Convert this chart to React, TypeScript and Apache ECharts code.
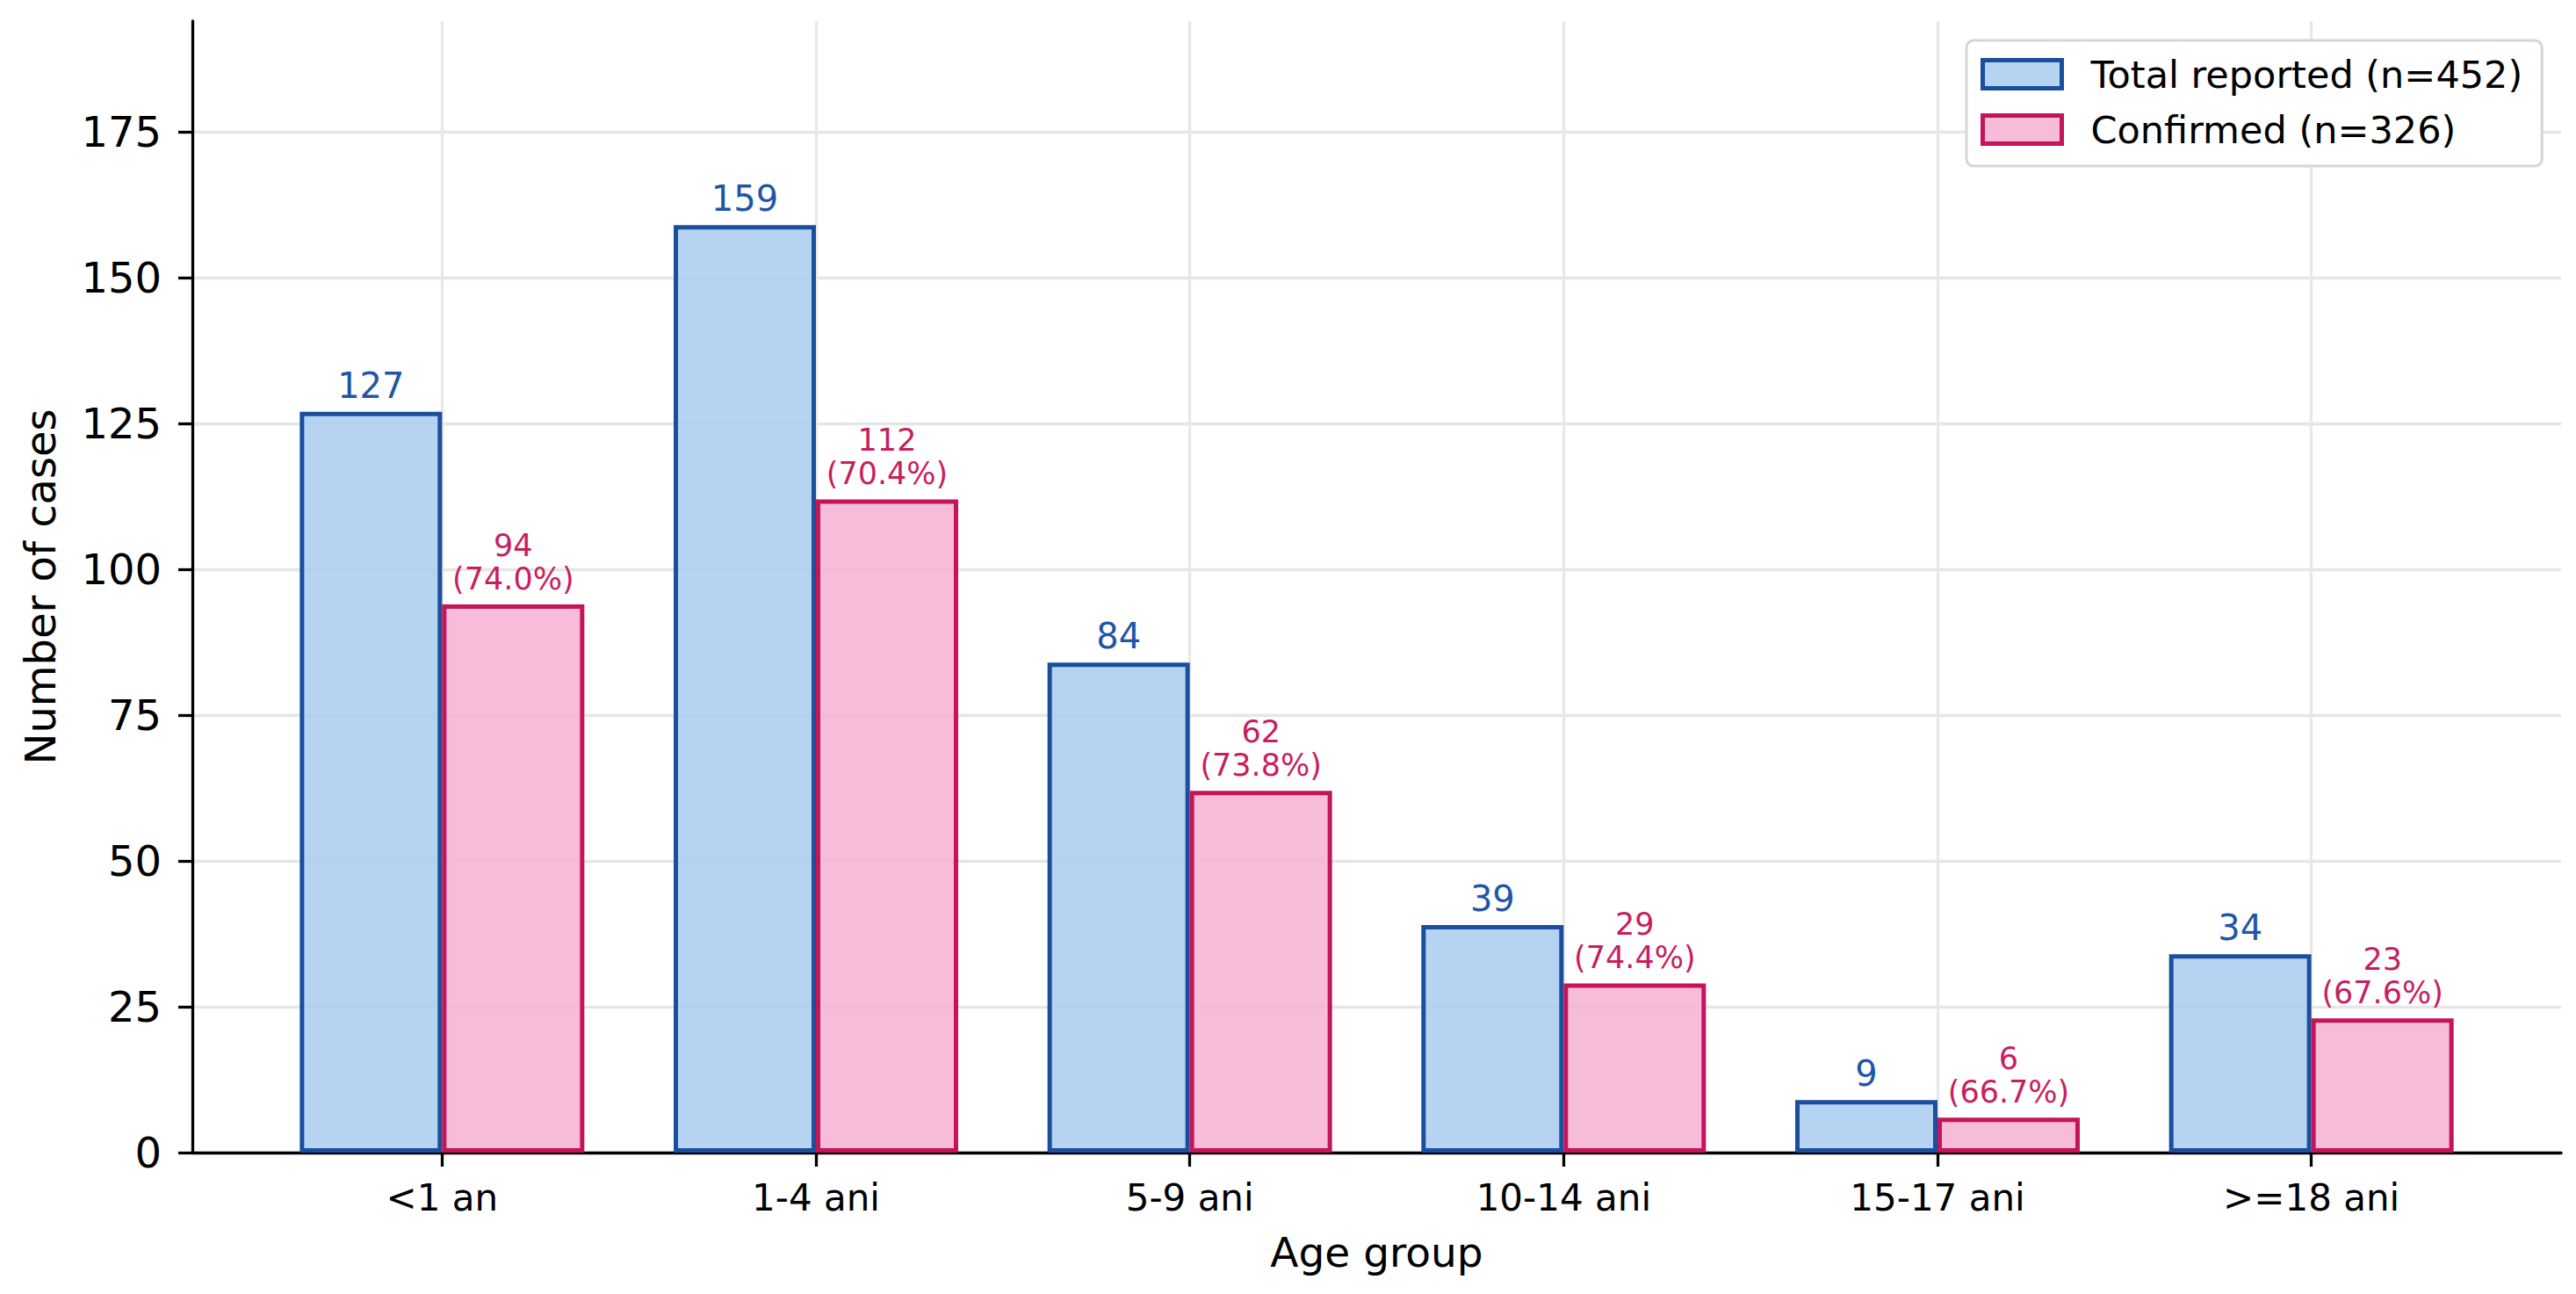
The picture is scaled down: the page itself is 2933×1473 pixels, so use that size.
import React, { useEffect, useRef } from 'react';
import * as echarts from 'echarts';

const categories = ['<1 an', '1-4 ani', '5-9 ani', '10-14 ani', '15-17 ani', '>=18 ani'];
const totalReported = [127, 159, 84, 39, 9, 34];
const confirmed = [94, 112, 62, 29, 6, 23];
const yTickValues = [0, 25, 50, 75, 100, 125, 150, 175];
const xTickValues = [0, 1, 2, 3, 4, 5];

const FONT = 'DejaVu Sans';
const BLUE_EDGE = '#1b4f9e';
const BLUE_FILL = 'rgba(169,204,240,0.85)';
const BLUE_TEXT = '#1f56a6';
const PINK_EDGE = '#c4145a';
const PINK_FILL = 'rgba(246,176,210,0.85)';
const PINK_TEXT = '#c81e5f';

export default function App() {
  const ref = useRef<HTMLDivElement>(null);
  useEffect(() => {
    if (!ref.current) return;
    const chart = echarts.init(ref.current, undefined, { renderer: 'svg' });
    const totalN = totalReported.reduce((a, b) => a + b, 0);
    const confN = confirmed.reduce((a, b) => a + b, 0);
    const totalName = `Total reported (n=${totalN})`;
    const confName = `Confirmed (n=${confN})`;
    chart.setOption({
      animation: false,
      backgroundColor: '#ffffff',
      textStyle: { fontFamily: FONT },
      grid: { left: 219, right: 17, top: 24, bottom: 161, containLabel: false },
      legend: {
        orient: 'vertical',
        left: 2239,
        top: 46,
        itemWidth: 90,
        itemHeight: 32,
        itemGap: 20,
        padding: [17, 22, 20, 16],
        backgroundColor: '#ffffff',
        borderColor: '#d6d6d6',
        borderWidth: 3,
        borderRadius: 8,
        icon: 'rect',
        itemStyle: { borderWidth: 5 },
        textStyle: {
          fontFamily: FONT,
          fontSize: 43,
          color: '#000000',
          lineHeight: 35,
          padding: [0, 0, 0, 28],
        },
        data: [totalName, confName],
      },
      xAxis: {
        type: 'value',
        min: -0.668,
        max: 5.668,
        name: 'Age group',
        nameLocation: 'middle',
        nameGap: 90,
        nameTextStyle: { fontFamily: FONT, fontSize: 47, color: '#000000' },
        axisLine: { show: true, onZero: false, lineStyle: { color: '#000000', width: 3.3 } },
        axisTick: {
          show: true,
          customValues: xTickValues,
          length: 16,
          lineStyle: { color: '#000000', width: 3.3 },
        },
        axisLabel: {
          customValues: xTickValues,
          formatter: (v: number) => categories[Math.round(v)] ?? '',
          fontFamily: FONT,
          fontSize: 42,
          color: '#000000',
          margin: 30,
        },
        splitLine: { show: true, lineStyle: { color: '#e8e8e8', width: 3.3 } },
      },
      yAxis: {
        type: 'value',
        min: 0,
        max: 194,
        name: 'Number of cases',
        nameLocation: 'middle',
        nameRotate: 90,
        nameGap: 149,
        nameTextStyle: { fontFamily: FONT, fontSize: 48, color: '#000000' },
        axisLine: { show: true, onZero: false, lineStyle: { color: '#000000', width: 3.3 } },
        axisTick: {
          show: true,
          customValues: yTickValues,
          length: 16,
          lineStyle: { color: '#000000', width: 3.3 },
        },
        axisLabel: {
          customValues: yTickValues,
          fontFamily: FONT,
          fontSize: 48,
          color: '#000000',
          margin: 35,
        },
        splitLine: { show: true, lineStyle: { color: '#e6e6e6', width: 3.3 } },
      },
      series: [
        {
          name: totalName,
          type: 'bar',
          barWidth: 162,
          barGap: '0%',
          data: totalReported.map((v, i) => [i, v]),
          itemStyle: { color: BLUE_FILL, borderColor: BLUE_EDGE, borderWidth: 5 },
          label: {
            show: true,
            position: 'top',
            distance: 10,
            fontFamily: FONT,
            fontSize: 40,
            color: BLUE_TEXT,
            formatter: (p: any) => String(p.value[1]),
          },
        },
        {
          name: confName,
          type: 'bar',
          barWidth: 162,
          barGap: '0%',
          data: confirmed.map((v, i) => [i, v]),
          itemStyle: { color: PINK_FILL, borderColor: PINK_EDGE, borderWidth: 5 },
          label: {
            show: true,
            position: 'top',
            distance: 10,
            fontFamily: FONT,
            fontSize: 35,
            lineHeight: 38,
            color: PINK_TEXT,
            formatter: (p: any) => {
              const i = p.dataIndex;
              const pct = ((confirmed[i] / totalReported[i]) * 100).toFixed(1);
              return `${confirmed[i]}\n(${pct}%)`;
            },
          },
        },
      ],
    });
    return () => chart.dispose();
  }, []);
  return (
    <div
      ref={ref}
      style={{ position: 'fixed', left: 0, top: 0, width: 2933, height: 1473, background: '#fff' }}
    />
  );
}
